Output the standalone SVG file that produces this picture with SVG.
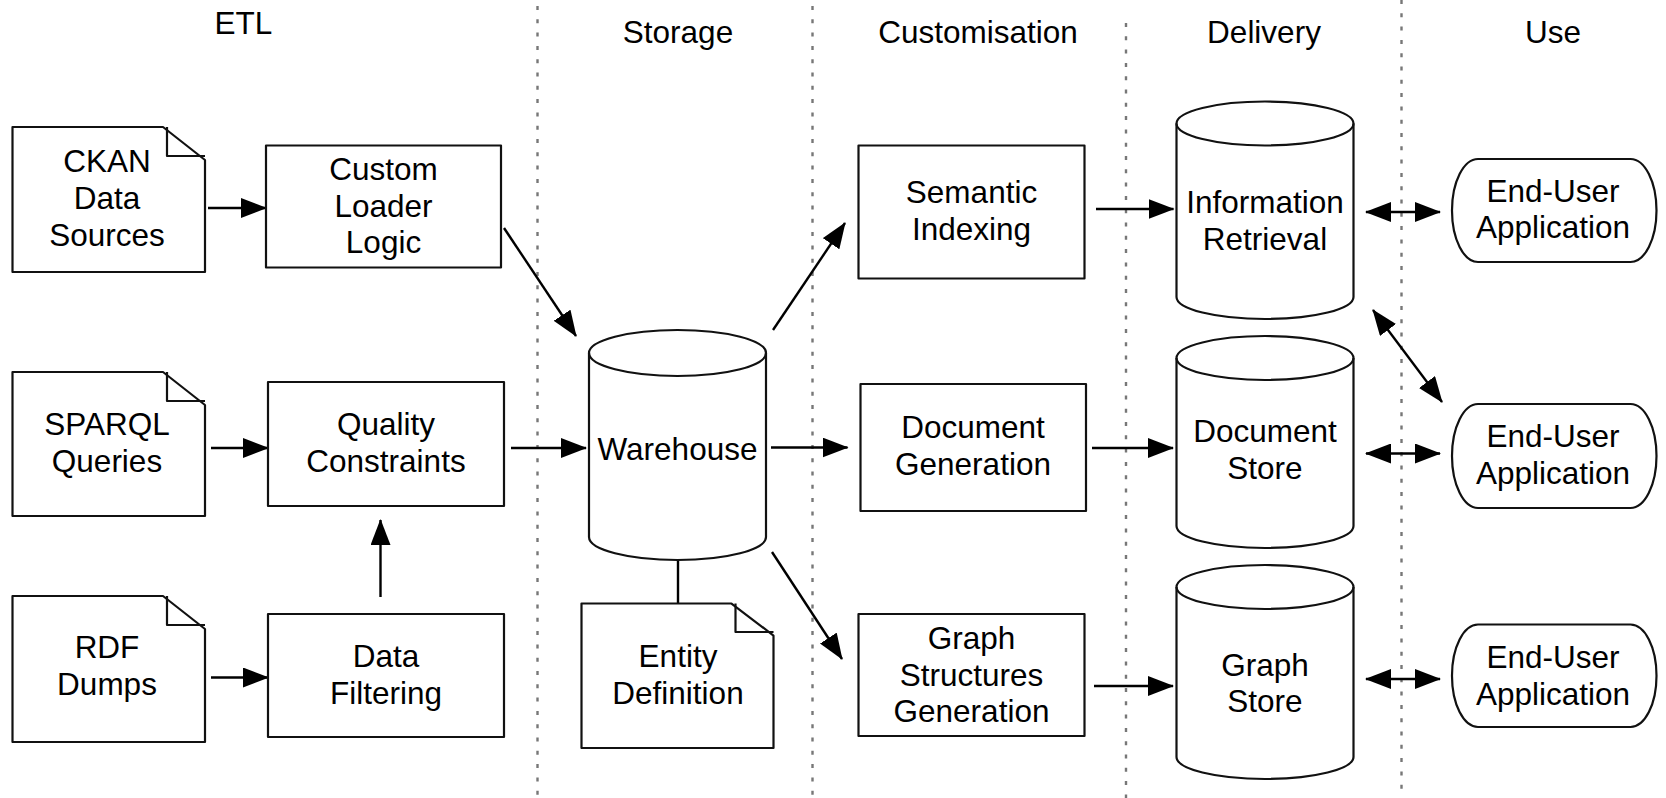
<svg xmlns="http://www.w3.org/2000/svg" width="1666" height="798" viewBox="0 0 1666 798">
<style>
text{font-family:"Liberation Sans",Arial,Helvetica,sans-serif;font-size:31.5px;fill:#000;text-anchor:middle}
.shape{fill:#fff;stroke:#111;stroke-width:2.2;stroke-linejoin:round}
.fold{fill:none;stroke:#111;stroke-width:2.2;stroke-linejoin:round}
.sep{stroke:#777;stroke-width:2.4;stroke-dasharray:4 9.3;fill:none}
.conn{stroke:#000;stroke-width:2.4;fill:none}
.arr{marker-end:url(#ah)}
.dbl{marker-start:url(#ah);marker-end:url(#ah)}
</style>
<defs>
<marker id="ah" markerWidth="26" markerHeight="20" refX="25" refY="10" orient="auto-start-reverse" markerUnits="userSpaceOnUse">
<path d="M0,0 L26,10 L0,20 Z" fill="#000"/>
</marker>
</defs>
<rect width="1666" height="798" fill="#fff"/>

<g id="separators">
<line class="sep" x1="537.5" y1="6" x2="537.5" y2="798"/>
<line class="sep" x1="812.5" y1="6" x2="812.5" y2="798"/>
<line class="sep" x1="1126" y1="23" x2="1126" y2="798"/>
<line class="sep" x1="1401.5" y1="0" x2="1401.5" y2="798"/>
</g>

<g id="headers">
<text x="243.5" y="33.5">ETL</text>
<text x="678" y="42.7">Storage</text>
<text x="978" y="42.7">Customisation</text>
<text x="1264" y="42.7">Delivery</text>
<text x="1553" y="42.7">Use</text>
</g>

<g id="connectors">
<line class="conn arr" x1="208" y1="208" x2="266" y2="208"/>
<line class="conn arr" x1="211" y1="448" x2="268" y2="448"/>
<line class="conn arr" x1="211" y1="677.5" x2="268" y2="677.5"/>
<line class="conn arr" x1="380.5" y1="597" x2="380.5" y2="520"/>
<line class="conn arr" x1="504" y1="228" x2="576" y2="336"/>
<line class="conn arr" x1="511" y1="448" x2="586" y2="448"/>
<line class="conn arr" x1="773" y1="330" x2="845" y2="223"/>
<line class="conn arr" x1="771" y1="447.5" x2="847.5" y2="447.5"/>
<line class="conn arr" x1="772" y1="552" x2="842" y2="659"/>
<line class="conn" x1="678" y1="560" x2="678" y2="603.5"/>
<line class="conn arr" x1="1096" y1="209" x2="1173.5" y2="209"/>
<line class="conn arr" x1="1092" y1="448" x2="1173" y2="448"/>
<line class="conn arr" x1="1094" y1="686" x2="1173" y2="686"/>
<line class="conn dbl" x1="1366" y1="212" x2="1440" y2="212"/>
<line class="conn dbl" x1="1366" y1="453.5" x2="1440" y2="453.5"/>
<line class="conn dbl" x1="1366" y1="679" x2="1440" y2="679"/>
<line class="conn dbl" x1="1373" y1="310" x2="1442" y2="402"/>
</g>

<g id="ckan">
<path class="shape" d="M12.5,127 H163 L205,160 V272 H12.5 Z"/>
<path class="fold" d="M167,127 V156 H205"/>
<text x="107" y="171.5">CKAN</text>
<text x="107" y="208.5">Data</text>
<text x="107" y="245.5">Sources</text>
</g>

<g id="sparql">
<path class="shape" d="M12.5,372 H163 L205,405 V516 H12.5 Z"/>
<path class="fold" d="M167,372 V401 H205"/>
<text x="107" y="434.5">SPARQL</text>
<text x="107" y="471.5">Queries</text>
</g>

<g id="rdf">
<path class="shape" d="M12.5,596 H163 L205,629 V742 H12.5 Z"/>
<path class="fold" d="M167,596 V625 H205"/>
<text x="107" y="658">RDF</text>
<text x="107" y="695">Dumps</text>
</g>

<g id="custom-loader">
<rect class="shape" x="266" y="145.5" width="235" height="122"/>
<text x="383.5" y="180">Custom</text>
<text x="383.5" y="217">Loader</text>
<text x="383.5" y="253">Logic</text>
</g>

<g id="quality">
<rect class="shape" x="268" y="382" width="236" height="124"/>
<text x="386" y="435">Quality</text>
<text x="386" y="471.5">Constraints</text>
</g>

<g id="filtering">
<rect class="shape" x="268" y="614" width="236" height="123"/>
<text x="386" y="667">Data</text>
<text x="386" y="704">Filtering</text>
</g>

<g id="warehouse">
<path class="shape" d="M589,353 V537 A88.5,23 0 0 0 766,537 V353 A88.5,23 0 0 0 589,353 Z"/>
<path class="fold" d="M589,353 A88.5,23 0 0 0 766,353"/>
<text x="677.5" y="459.5">Warehouse</text>
</g>

<g id="entity">
<path class="shape" d="M581.5,603.5 H731.5 L773.5,635.5 V748 H581.5 Z"/>
<path class="fold" d="M735.5,603.5 V632 H773.5"/>
<text x="678" y="667">Entity</text>
<text x="678" y="704">Definition</text>
</g>

<g id="semantic">
<rect class="shape" x="858.5" y="145.5" width="226" height="133"/>
<text x="971.5" y="203">Semantic</text>
<text x="971.5" y="240">Indexing</text>
</g>

<g id="docgen">
<rect class="shape" x="860.5" y="384" width="225.5" height="127"/>
<text x="973" y="438">Document</text>
<text x="973" y="475">Generation</text>
</g>

<g id="graphgen">
<rect class="shape" x="858.5" y="614" width="226" height="122"/>
<text x="971.5" y="648.5">Graph</text>
<text x="971.5" y="685.5">Structures</text>
<text x="971.5" y="722">Generation</text>
</g>

<g id="ir">
<path class="shape" d="M1176.5,123.5 V297 A88.5,22 0 0 0 1353.5,297 V123.5 A88.5,22 0 0 0 1176.5,123.5 Z"/>
<path class="fold" d="M1176.5,123.5 A88.5,22 0 0 0 1353.5,123.5"/>
<text x="1265" y="212.5">Information</text>
<text x="1265" y="249.5">Retrieval</text>
</g>

<g id="docstore">
<path class="shape" d="M1176.5,358 V526 A88.5,22 0 0 0 1353.5,526 V358 A88.5,22 0 0 0 1176.5,358 Z"/>
<path class="fold" d="M1176.5,358 A88.5,22 0 0 0 1353.5,358"/>
<text x="1265" y="441.5">Document</text>
<text x="1265" y="478.5">Store</text>
</g>

<g id="graphstore">
<path class="shape" d="M1176.5,587 V757 A88.5,22 0 0 0 1353.5,757 V587 A88.5,22 0 0 0 1176.5,587 Z"/>
<path class="fold" d="M1176.5,587 A88.5,22 0 0 0 1353.5,587"/>
<text x="1265" y="676">Graph</text>
<text x="1265" y="712">Store</text>
</g>

<g id="app1">
<rect class="shape" x="1452" y="159" width="204.5" height="103" rx="26" ry="51.5"/>
<text x="1553" y="201.5">End-User</text>
<text x="1553" y="237.5">Application</text>
</g>

<g id="app2">
<rect class="shape" x="1452" y="404" width="204.5" height="104" rx="26" ry="52"/>
<text x="1553" y="447">End-User</text>
<text x="1553" y="484">Application</text>
</g>

<g id="app3">
<rect class="shape" x="1452" y="624.5" width="204.5" height="102.5" rx="26" ry="51"/>
<text x="1553" y="668">End-User</text>
<text x="1553" y="705">Application</text>
</g>
</svg>
